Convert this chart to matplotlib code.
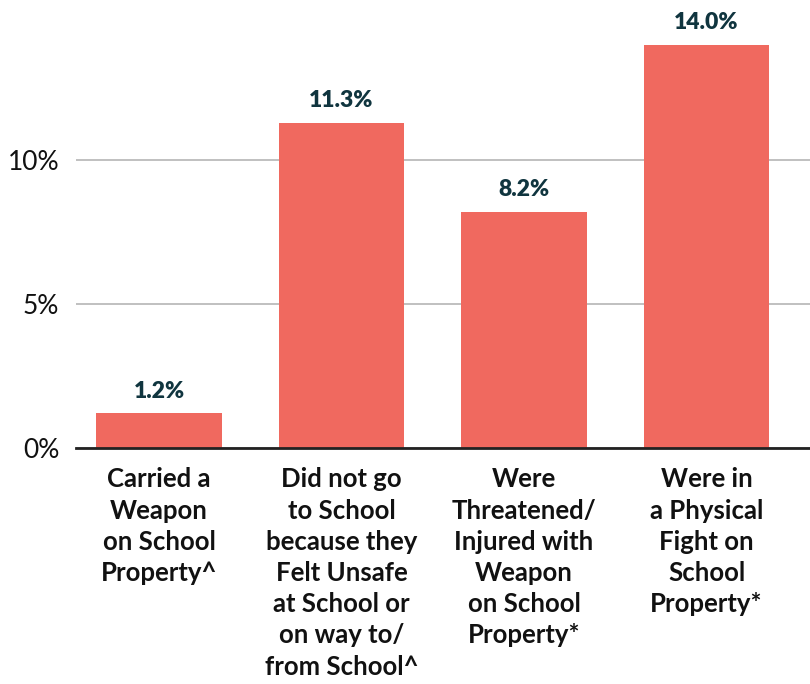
import matplotlib.pyplot as plt

# Share of students reporting each school-safety issue
categories = [
    "Carried a\nWeapon\non School\nProperty^",
    "Did not go\nto School\nbecause they\nFelt Unsafe\nat School or\non way to/\nfrom School^",
    "Were\nThreatened/\nInjured with\nWeapon\non School\nProperty*",
    "Were in\na Physical\nFight on\nSchool\nProperty*",
]
values = [1.2, 11.3, 8.2, 14.0]
yticks = [0, 5, 10]
ytick_labels = ["0%", "5%", "10%"]

bar_color = "#F0695F"
label_color = "#10353F"

plt.rcParams["font.family"] = ["Lato", "DejaVu Sans"]

fig = plt.figure(figsize=(8.1, 6.84), dpi=100)
ax = fig.add_axes([76 / 810, 1 - 448 / 684, 734 / 810, 448 / 684])

x = range(len(values))
bars = ax.bar(x, values, width=0.69, color=bar_color, zorder=2)

for rect, v in zip(bars, values):
    ax.text(rect.get_x() + rect.get_width() / 2, v + 0.4, f"{v:.1f}%",
            ha="center", va="bottom", fontsize=16.5, fontweight="heavy",
            color=label_color)

ax.set_xlim(-0.455, 3.567)
ax.set_ylim(0, 15.56)

ax.set_yticks(yticks)
ax.set_yticklabels(ytick_labels, fontsize=19, color="#111111")
ax.yaxis.grid(True, color="#B5B5B5", linewidth=1.2, zorder=0)
ax.tick_params(axis="y", length=0, pad=12)

ax.set_xticks(list(x))
ax.set_xticklabels(categories, fontsize=18.5, fontweight="bold",
                   linespacing=1.36, color="#111111")
ax.tick_params(axis="x", length=0, pad=14)

for side in ["top", "right", "left"]:
    ax.spines[side].set_visible(False)
ax.spines["bottom"].set_color("#222222")
ax.spines["bottom"].set_linewidth(2)
ax.spines["bottom"].set_zorder(3)

fig.savefig("out.png", dpi=100)
